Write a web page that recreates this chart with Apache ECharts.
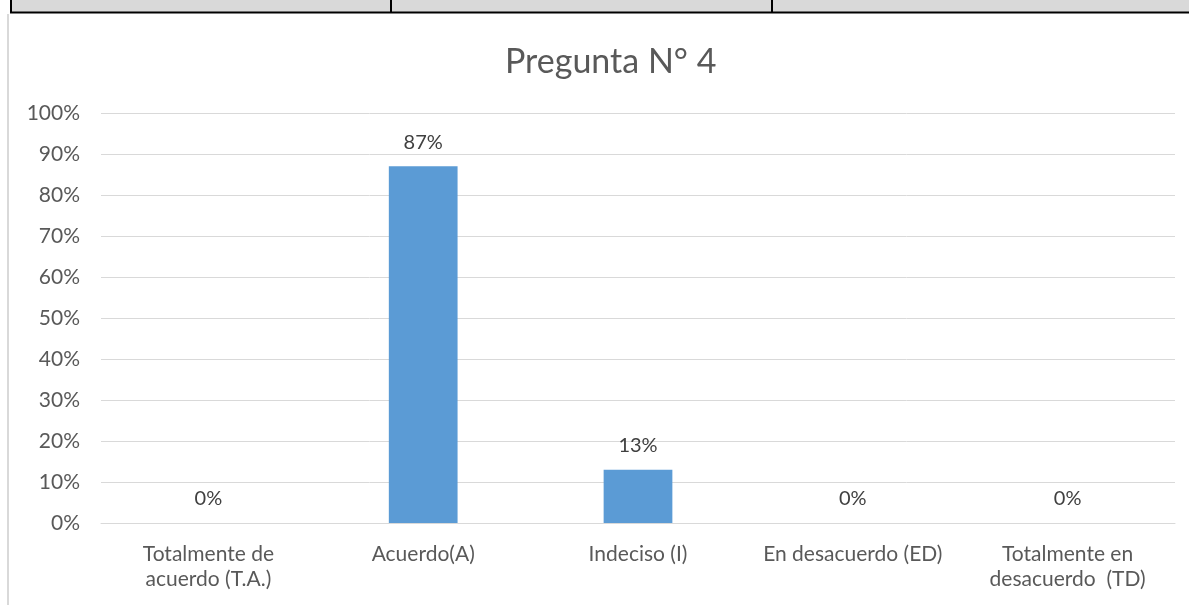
<!DOCTYPE html>
<html>
<head>
<meta charset="utf-8">
<script src="https://cdn.jsdelivr.net/npm/echarts@6/dist/echarts.min.js"></script>
<style>
  html, body { margin: 0; padding: 0; background: #fff; }
  #chart { width: 1189px; height: 605px; }
</style>
</head>
<body>
<div id="chart"></div>
<script>
// datos de la pregunta 4
var categorias = ['Totalmente de\nacuerdo (T.A.)', 'Acuerdo(A)', 'Indeciso (I)', 'En desacuerdo (ED)', 'Totalmente en\ndesacuerdo  (TD)'];
var porcentajes = [0, 87, 13, 0, 0];
var titulo = 'Pregunta N° 4';

var myChart = echarts.init(document.getElementById('chart'));
var fuente = 'Lato, "Open Sans", sans-serif';

var option = {
    animation: false,
    textStyle: {fontFamily: fuente, color: '#595959'},
    title: {
        text: titulo,
        left: 500,
        top: 40,
        textStyle: {fontSize: 34, fontWeight: 'normal', color: '#595959', fontFamily: fuente}
    },
    grid: {
        left: 101,
        right: 14,
        top: 113,
        bottom: 82,
        containLabel: false
    },
    xAxis: {
        type: 'category',
        data: categorias,
        axisTick: {show: false},
        axisLine: {lineStyle: {color: '#d9d9d9', width: 1}},
        axisLabel: {
            fontSize: 21,
            color: '#595959',
            lineHeight: 25,
            margin: 19,
            interval: 0
        }
    },
    yAxis: {
        type: 'value',
        min: 0,
        max: 100,
        interval: 10,
        axisLine: {show: false},
        axisTick: {show: false},
        splitLine: {lineStyle: {color: '#d9d9d9', width: 1}},
        axisLabel: {
            formatter: '{value}%',
            fontSize: 21,
            color: '#595959',
            margin: 21
        }
    },
    series: [
        {
            type: 'bar',
            data: porcentajes,
            barWidth: '32%',
            itemStyle: {color: '#5b9bd5'},
            label: {
                show: true,
                position: 'top',
                distance: 14,
                formatter: '{c}%',
                fontSize: 20,
                color: '#404040'
            }
        }
    ],
    graphic: [
        // franja gris de la tabla arriba
        {type: 'rect', shape: {x: 10, y: 0, width: 1179, height: 12}, style: {fill: '#d9d9d9'}},
        {type: 'line', shape: {x1: 10, y1: 12.5, x2: 1189, y2: 12.5}, style: {stroke: '#000', lineWidth: 2}},
        {type: 'line', shape: {x1: 11, y1: 0, x2: 11, y2: 13}, style: {stroke: '#000', lineWidth: 2}},
        {type: 'line', shape: {x1: 391, y1: 0, x2: 391, y2: 13}, style: {stroke: '#000', lineWidth: 2}},
        {type: 'line', shape: {x1: 772, y1: 0, x2: 772, y2: 13}, style: {stroke: '#000', lineWidth: 2}},
        // borde del grafico
        {type: 'line', shape: {x1: 8, y1: 14, x2: 8, y2: 605}, style: {stroke: '#d9d9d9', lineWidth: 2}}
    ]
};
myChart.setOption(option);
</script>
</body>
</html>
